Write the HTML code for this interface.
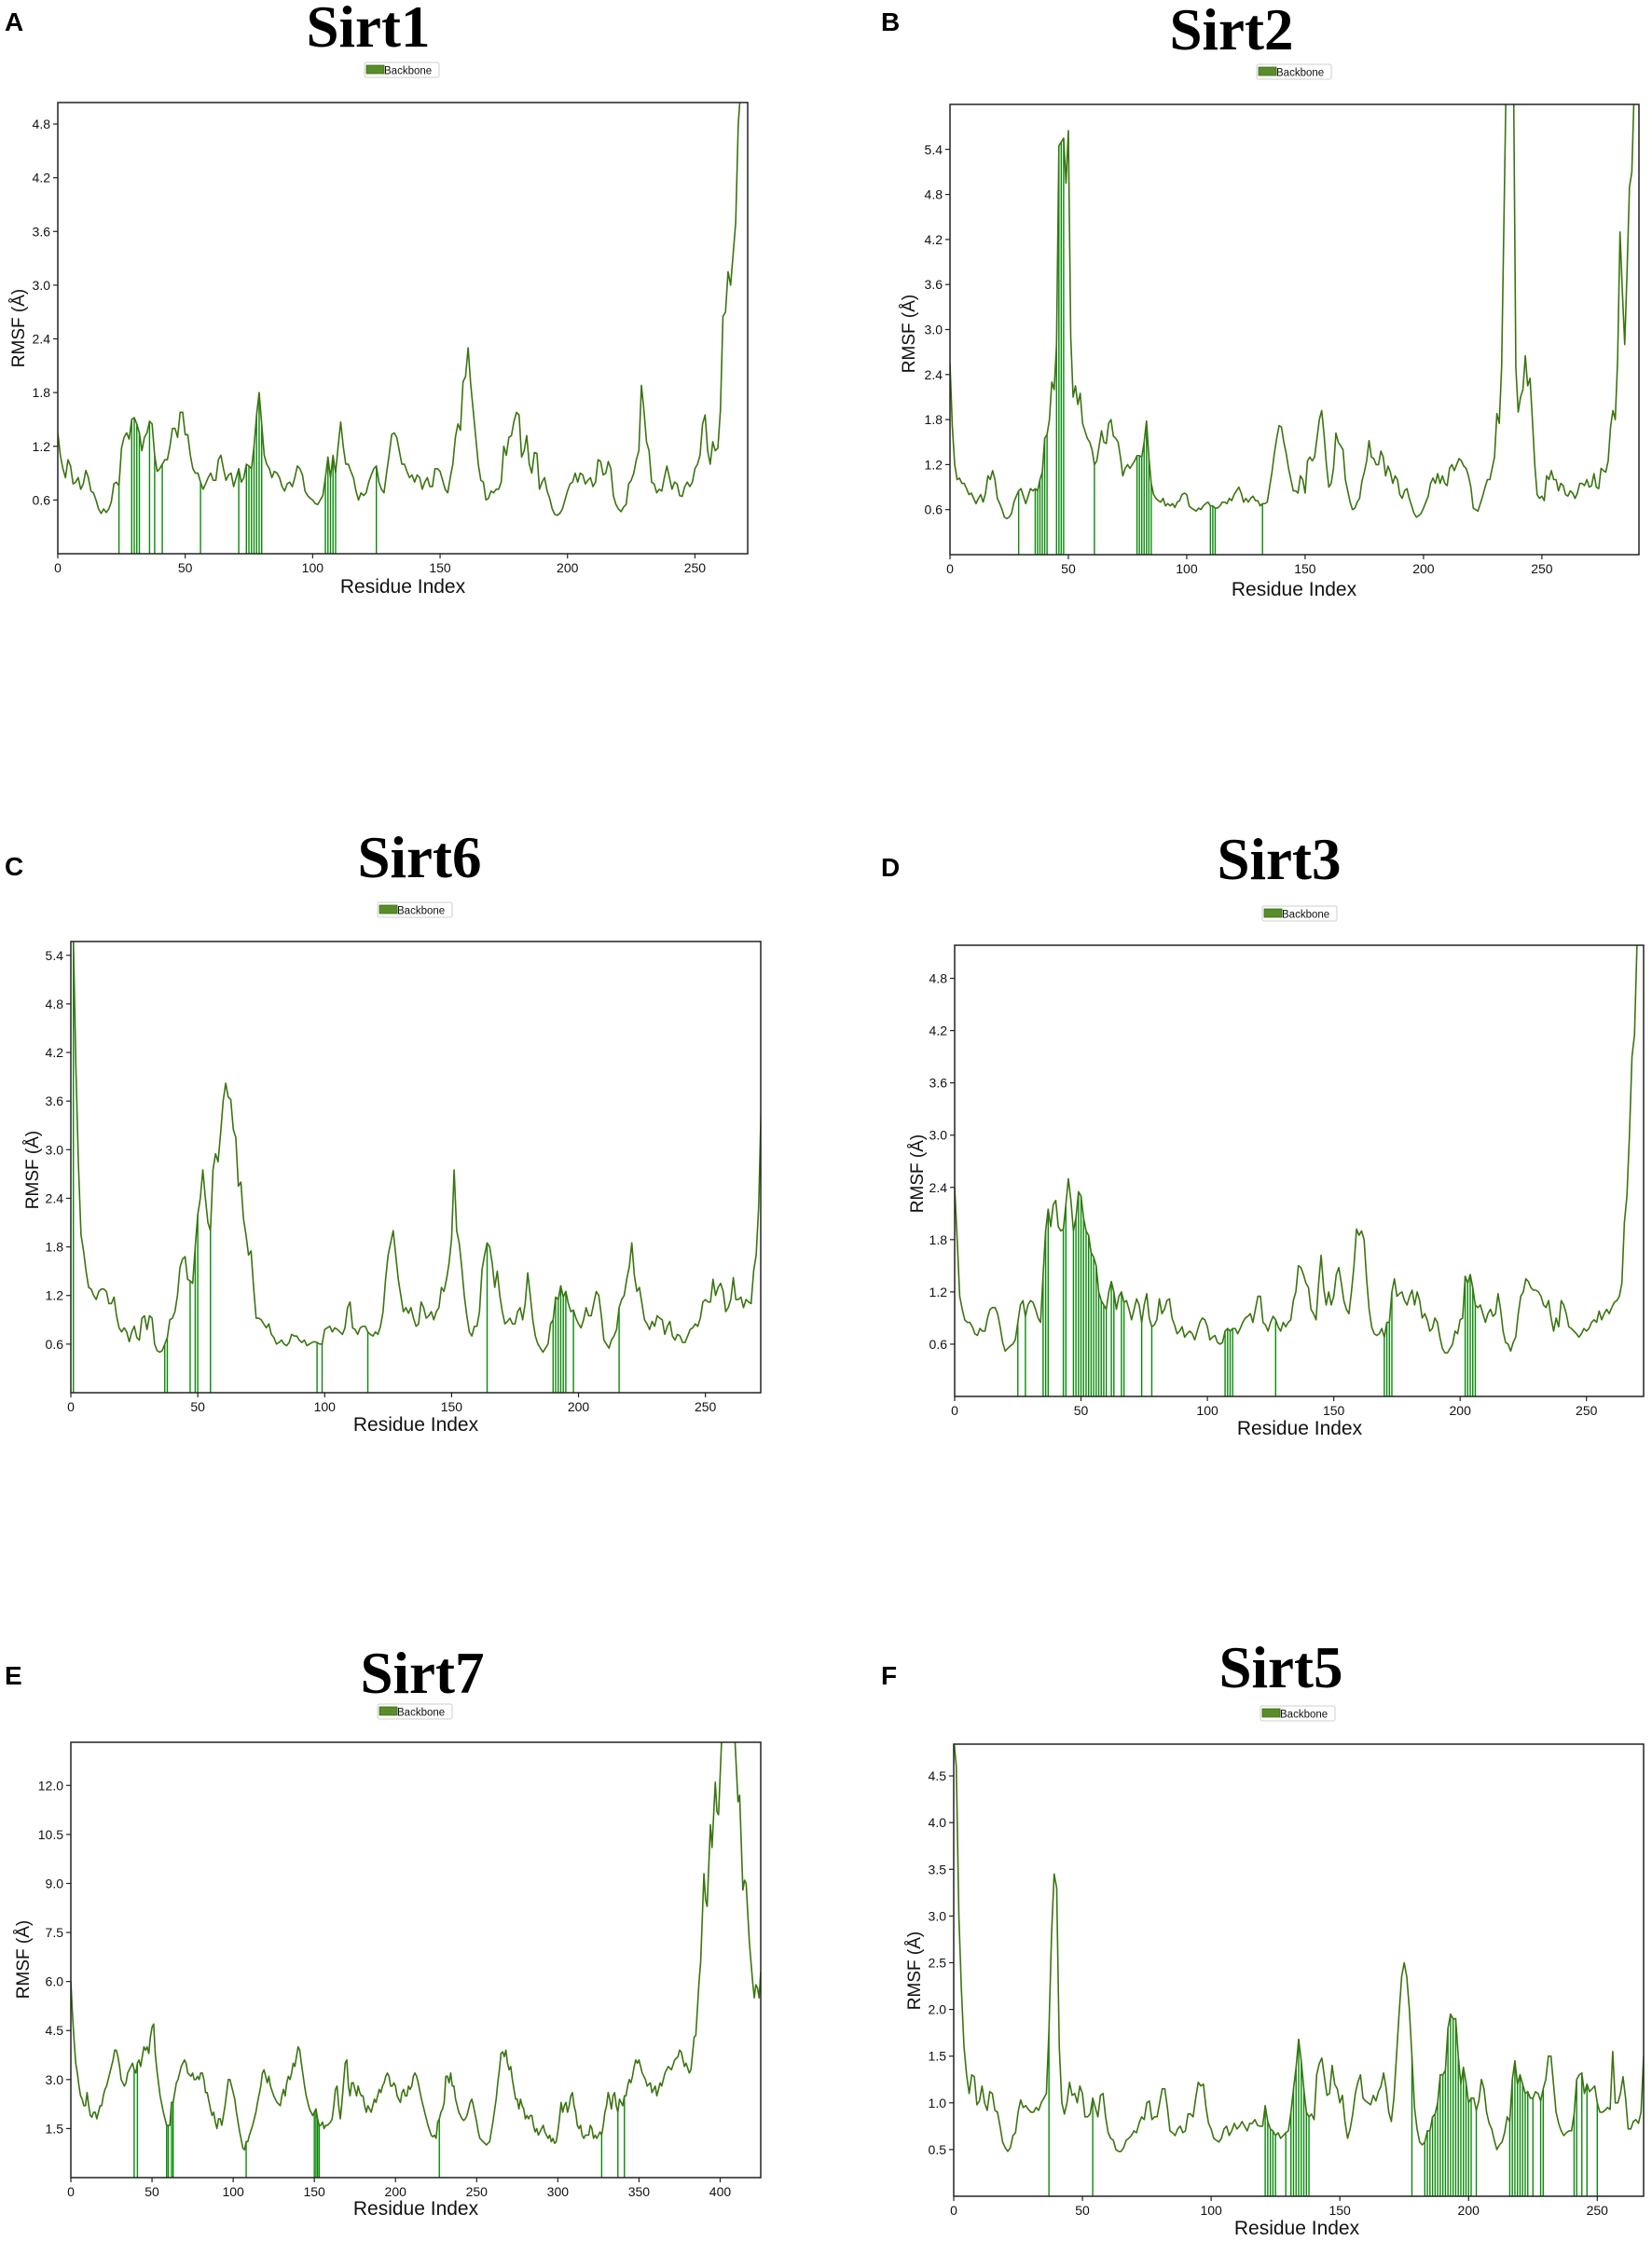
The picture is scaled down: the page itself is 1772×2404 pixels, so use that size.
<!DOCTYPE html>
<html><head><meta charset="utf-8"><style>
html,body{margin:0;padding:0;background:#fff;}
svg{display:block;}
text{font-family:"Liberation Sans",sans-serif;}
</style></head>
<body>
<svg id="fig" width="1772" height="2404" viewBox="0 0 1772 2404" xmlns="http://www.w3.org/2000/svg"></svg>
<script>
// ---------- Data ----------
const rmsfA = [1.35,1.1,0.95,0.85,1.05,0.98,0.78,0.8,0.85,0.72,0.78,0.93,0.85,0.7,0.68,0.6,0.5,0.45,0.5,0.46,0.5,0.58,0.78,0.8,0.76,1.18,1.3,1.35,1.28,1.5,1.52,1.45,1.35,1.15,1.3,1.35,1.48,1.45,1.1,0.92,0.95,1.0,1.05,1.05,1.2,1.4,1.4,1.3,1.58,1.58,1.33,1.33,1.1,0.95,0.9,0.9,0.8,0.72,0.78,0.85,0.9,0.82,0.82,1.05,1.1,0.95,0.82,0.88,0.9,0.75,0.85,0.95,0.8,0.85,1.0,0.98,0.95,1.2,1.55,1.8,1.45,1.1,1.0,0.95,0.85,0.92,0.9,0.85,0.75,0.7,0.78,0.8,0.75,0.85,0.98,0.95,0.88,0.7,0.65,0.62,0.6,0.56,0.55,0.6,0.65,0.85,1.08,0.85,1.1,0.9,1.2,1.47,1.2,1.0,1.0,0.92,0.85,0.7,0.6,0.68,0.65,0.68,0.8,0.88,0.95,0.98,0.8,0.72,0.68,0.9,1.1,1.33,1.35,1.3,1.15,1.0,1.0,0.92,0.85,0.88,0.8,0.88,0.85,0.72,0.8,0.85,0.75,0.75,0.95,0.95,0.92,0.82,0.72,0.68,0.85,1.0,1.3,1.45,1.38,1.92,1.98,2.3,1.9,1.6,1.3,1.0,0.82,0.8,0.6,0.62,0.7,0.68,0.72,0.72,0.8,1.2,1.1,1.3,1.32,1.48,1.58,1.55,1.08,1.15,1.32,1.0,0.9,1.13,1.12,0.72,0.8,0.85,0.7,0.62,0.5,0.44,0.43,0.45,0.5,0.6,0.7,0.78,0.8,0.9,0.8,0.9,0.88,0.78,0.82,0.85,0.75,0.8,1.05,1.03,0.88,0.9,1.03,0.95,0.65,0.55,0.5,0.47,0.52,0.55,0.78,0.82,0.9,1.05,1.15,1.88,1.6,1.25,1.15,0.8,0.78,0.68,0.72,0.7,0.85,0.98,0.85,0.72,0.8,0.78,0.65,0.64,0.75,0.8,0.75,0.8,0.95,1.0,1.1,1.45,1.55,1.15,1.0,1.25,1.15,1.18,1.6,2.65,2.7,3.15,3.0,3.35,3.7,4.8,5.2];
const contactsA = [24,29,30,31,32,36,38,41,56,71,74,75,76,77,78,79,80,105,106,107,108,109,125];

const rmsfB = [2.55,1.7,1.2,1.0,1.02,0.95,0.95,0.88,0.8,0.82,0.75,0.68,0.75,0.8,0.7,0.82,1.05,1.0,1.12,1.0,0.75,0.68,0.6,0.5,0.48,0.5,0.55,0.7,0.78,0.85,0.88,0.78,0.68,0.78,0.88,0.85,0.88,0.85,1.0,1.1,1.55,1.6,1.8,2.3,2.2,2.8,5.45,5.5,5.55,4.95,5.65,2.9,2.1,2.25,2.0,2.15,1.75,1.65,1.55,1.5,1.4,1.2,1.25,1.45,1.65,1.5,1.48,1.75,1.8,1.58,1.55,1.5,1.3,1.05,1.15,1.2,1.15,1.2,1.25,1.32,1.32,1.3,1.5,1.78,1.3,0.95,0.8,0.75,0.72,0.7,0.75,0.65,0.68,0.65,0.68,0.63,0.7,0.72,0.8,0.82,0.8,0.65,0.62,0.6,0.58,0.62,0.6,0.65,0.68,0.7,0.65,0.65,0.62,0.62,0.65,0.7,0.7,0.68,0.75,0.72,0.8,0.85,0.9,0.82,0.7,0.75,0.7,0.75,0.78,0.72,0.72,0.65,0.68,0.68,0.7,0.9,1.1,1.35,1.55,1.72,1.7,1.5,1.35,1.15,1.0,0.85,0.85,0.82,1.05,1.0,0.82,1.25,1.3,1.25,1.3,1.55,1.8,1.92,1.6,1.2,0.9,0.95,1.15,1.62,1.5,1.45,1.4,1.0,0.85,0.7,0.6,0.62,0.7,0.75,0.98,1.1,1.25,1.52,1.3,1.28,1.2,1.2,1.38,1.3,1.05,1.18,1.1,0.95,1.05,1.0,0.8,0.75,0.85,0.88,0.75,0.65,0.55,0.5,0.52,0.55,0.62,0.7,0.78,0.95,1.02,0.95,1.08,0.95,1.05,0.95,0.92,1.15,1.2,1.12,1.2,1.28,1.25,1.18,1.15,1.05,0.9,0.62,0.6,0.58,0.68,0.78,0.9,1.0,1.0,1.15,1.3,1.88,1.75,2.5,4.5,6.5,6.8,6.8,6.5,2.5,1.9,2.1,2.2,2.65,2.25,2.35,1.8,1.2,0.8,0.75,0.78,0.72,1.05,1.0,1.12,1.0,1.0,0.85,0.95,0.92,0.8,0.78,0.85,0.82,0.75,0.82,0.95,0.95,0.92,1.0,0.9,0.92,1.08,0.9,0.88,1.15,1.12,1.1,1.25,1.7,1.92,1.8,2.6,4.3,3.5,2.8,3.8,4.9,5.1,6.2];
const contactsB = [29,36,37,38,39,40,41,45,46,47,48,61,79,80,81,82,83,84,85,110,111,112,132];

const rmsfC = [5.6,5.6,4.0,2.8,1.95,1.75,1.5,1.3,1.28,1.2,1.15,1.25,1.28,1.28,1.25,1.1,1.1,1.18,0.95,0.8,0.75,0.8,0.75,0.63,0.75,0.82,0.68,0.65,0.92,0.95,0.78,0.95,0.92,0.6,0.52,0.5,0.52,0.6,0.68,0.9,0.92,1.0,1.2,1.55,1.65,1.68,1.4,1.38,1.35,1.8,2.2,2.4,2.75,2.4,2.1,2.0,2.75,2.95,2.85,3.2,3.6,3.82,3.65,3.62,3.25,3.15,2.55,2.6,2.15,1.95,1.7,1.75,1.3,0.92,0.92,0.9,0.85,0.8,0.85,0.72,0.68,0.6,0.62,0.65,0.6,0.58,0.62,0.72,0.7,0.7,0.65,0.62,0.65,0.58,0.6,0.62,0.63,0.62,0.6,0.6,0.78,0.8,0.82,0.75,0.8,0.78,0.75,0.72,0.8,1.05,1.12,0.8,0.78,0.72,0.8,0.82,0.82,0.75,0.72,0.7,0.75,0.72,0.82,1.0,1.4,1.7,1.85,2.0,1.7,1.4,1.2,1.0,1.05,0.98,1.05,0.92,0.82,0.85,1.12,1.05,0.92,0.95,1.0,0.9,1.0,1.05,1.3,1.25,1.4,1.6,1.9,2.75,2.0,1.85,1.55,1.2,0.95,0.75,0.7,0.82,0.82,1.0,1.52,1.7,1.85,1.8,1.6,1.3,1.5,1.2,1.0,0.85,0.88,0.92,0.85,0.85,1.0,1.05,0.9,1.1,1.48,1.2,0.9,0.7,0.6,0.55,0.5,0.55,0.6,0.85,0.9,1.18,1.15,1.32,1.18,1.25,1.1,1.0,1.02,0.92,0.85,0.8,0.9,1.05,0.95,0.95,1.1,1.25,1.2,0.95,0.65,0.6,0.55,0.65,0.7,0.78,1.05,1.15,1.2,1.4,1.55,1.85,1.45,1.25,1.3,1.1,0.9,0.85,0.78,0.88,0.82,0.95,0.92,0.9,0.72,0.82,0.88,0.7,0.65,0.72,0.7,0.62,0.62,0.7,0.78,0.8,0.85,0.82,0.92,1.12,1.15,1.12,1.12,1.4,1.2,1.3,1.35,1.25,1.0,1.05,1.15,1.42,1.15,1.15,1.18,1.05,1.15,1.12,1.1,1.5,1.7,2.3,3.6];
const contactsC = [1,37,38,47,49,50,55,97,99,117,164,190,191,192,193,194,195,198,216];

const rmsfD = [2.4,1.8,1.15,1.0,0.88,0.85,0.85,0.8,0.72,0.7,0.78,0.75,0.75,0.9,1.0,1.02,1.02,0.95,0.8,0.62,0.52,0.55,0.58,0.6,0.65,0.85,1.05,1.1,0.92,1.05,1.1,1.08,1.0,0.9,0.85,1.4,1.9,2.15,1.95,2.2,2.25,1.95,1.9,1.92,2.2,2.5,2.25,1.9,2.05,2.35,2.3,2.05,1.9,1.85,1.65,1.6,1.5,1.2,1.1,1.05,1.0,1.2,1.32,1.2,1.0,1.15,1.2,1.08,1.1,1.0,0.88,1.0,1.12,1.05,0.85,1.05,1.18,0.9,0.8,0.82,0.88,1.12,0.95,1.0,1.1,1.12,0.9,0.82,0.72,0.75,0.8,0.68,0.72,0.75,0.72,0.65,0.75,0.85,0.9,0.88,0.8,0.65,0.68,0.7,0.62,0.6,0.62,0.75,0.78,0.75,0.78,0.78,0.72,0.78,0.85,0.9,0.92,0.95,0.85,1.0,1.15,1.15,0.85,0.82,0.75,0.85,0.92,0.88,0.8,0.75,0.85,0.8,0.85,0.88,1.1,1.2,1.5,1.48,1.4,1.3,1.25,1.0,0.95,0.88,1.3,1.62,1.25,1.05,1.2,1.05,1.15,1.4,1.48,1.3,1.1,1.0,0.95,1.2,1.5,1.92,1.85,1.9,1.8,1.35,1.0,0.8,0.72,0.7,0.72,0.78,0.68,0.85,0.85,1.2,1.35,1.15,1.18,1.2,1.1,1.05,1.15,1.22,1.05,1.2,1.1,0.9,0.95,0.88,0.75,0.78,0.9,0.85,0.68,0.55,0.5,0.5,0.55,0.6,0.75,0.72,0.88,0.9,1.38,1.3,1.4,1.25,1.05,1.02,1.05,0.95,0.85,0.95,1.0,0.92,0.95,1.18,1.0,0.75,0.62,0.6,0.52,0.62,0.68,0.95,1.15,1.2,1.35,1.32,1.25,1.22,1.22,1.2,1.15,1.05,1.02,1.1,0.9,0.75,0.9,0.8,1.1,1.05,0.95,0.8,0.78,0.75,0.72,0.68,0.72,0.78,0.75,0.78,0.85,0.88,0.85,0.98,0.88,0.95,1.0,0.95,1.02,1.08,1.1,1.15,1.3,2.0,2.3,3.0,3.9,4.15,5.2,5.6];
const contactsD = [25,28,35,36,37,43,44,47,48,49,50,51,52,53,54,55,56,57,58,59,60,62,63,66,67,74,78,107,108,109,110,127,170,171,172,173,202,203,204,205,206];

const resE = [0,1,2,3,4,5,6,7,8,9,10,11,12,13,14,15,16,17,18,19,20,21,22,24,26,27,28,29,30,31,32,33,34,35,37,38,39,40,41,42,43,45,46,47,48,49,50,51,52,53,55,57,59,61,62,63,65,66,67,68,70,71,72,74,75,76,77,78,79,80,81,82,83,84,86,87,88,89,90,91,92,93,94,95,96,97,98,99,100,101,102,104,106,107,108,109,110,112,114,115,117,118,119,120,121,122,123,125,127,129,130,131,132,133,134,135,136,137,138,139,140,141,142,144,145,147,149,150,151,152,153,154,155,156,157,158,160,161,162,163,164,165,166,167,168,169,170,171,172,173,174,175,176,177,178,179,180,181,182,183,184,185,186,187,188,189,190,191,192,193,194,195,196,197,198,199,200,201,202,203,204,205,206,207,208,209,210,211,212,213,214,216,218,220,222,223,224,225,226,227,228,229,230,231,232,233,234,235,236,237,239,240,241,242,243,244,245,246,247,248,250,251,252,254,255,256,257,258,259,260,262,263,264,265,266,267,268,269,270,271,272,273,274,275,276,277,278,279,280,281,282,283,284,285,286,287,288,289,290,291,292,293,294,295,296,297,298,299,300,301,302,303,304,305,306,307,308,309,310,311,312,313,314,315,316,317,318,319,320,321,322,323,324,325,326,327,328,329,330,331,332,333,334,335,336,337,338,339,340,341,342,343,344,345,346,347,348,349,350,352,354,355,357,358,360,361,363,364,366,368,370,372,374,375,376,378,379,381,382,384,385,387,388,390,391,392,394,395,397,398,399,401,405,409,411,412,414,415,416,418,420,421,422,423,424,425];
const rmsfE = [6.0,5.0,4.2,3.5,3.2,2.8,2.5,2.4,2.2,2.2,2.6,2.2,1.9,1.85,2.0,2.0,1.8,2.0,2.2,2.2,2.5,2.7,2.8,3.2,3.6,3.9,3.9,3.7,3.4,3.0,2.9,2.8,2.9,3.2,3.4,3.5,3.3,3.2,3.5,3.6,3.4,4.0,3.9,4.0,3.8,4.3,4.6,4.7,3.8,3.3,2.5,2.0,1.6,1.6,2.3,2.3,2.9,3.0,3.2,3.4,3.6,3.5,3.2,3.1,3.2,3.0,3.0,3.1,3.0,3.2,3.2,3.0,2.6,2.6,2.1,1.9,2.0,1.7,1.5,1.8,1.8,1.6,1.9,2.2,2.6,3.0,3.0,2.8,2.6,2.4,2.0,1.4,0.9,0.85,1.1,1.1,1.3,1.6,2.0,2.3,2.8,3.2,3.3,3.1,2.9,3.1,2.8,2.5,2.3,2.2,2.5,2.7,2.5,2.9,3.1,3.0,3.2,3.5,3.4,3.7,4.0,3.9,3.5,2.8,2.5,2.1,1.9,2.0,2.1,1.8,1.6,1.6,1.7,1.5,1.6,1.6,1.7,1.8,2.2,2.7,2.8,2.2,1.8,2.3,2.9,3.5,3.6,2.8,2.5,2.9,2.9,2.7,2.5,2.8,2.6,2.5,2.5,2.2,2.0,2.2,2.1,2.0,2.2,2.4,2.3,2.5,2.7,2.6,2.8,2.9,3.1,3.2,3.1,2.8,2.8,2.9,2.8,2.5,2.4,2.3,2.6,2.7,2.5,2.5,2.8,2.7,2.8,3.1,3.2,3.1,2.9,2.4,2.0,1.6,1.3,1.25,1.3,1.2,1.7,1.8,2.0,2.1,2.3,3.1,3.1,2.9,3.2,2.8,2.8,2.4,2.0,1.9,1.8,1.75,1.8,1.9,2.1,2.3,2.4,2.2,1.7,1.4,1.2,1.1,1.05,1.0,1.05,1.1,1.4,1.7,2.4,2.9,3.3,3.8,3.85,3.7,3.9,3.5,3.3,3.4,3.0,2.7,2.4,2.4,2.1,2.4,2.2,2.1,1.8,1.9,1.8,1.9,1.9,1.6,1.4,1.5,1.3,1.4,1.5,1.6,1.4,1.3,1.2,1.3,1.1,1.2,1.05,1.1,1.4,1.8,2.3,2.0,2.2,2.3,2.0,2.2,2.5,2.6,2.2,2.0,1.6,1.5,1.6,1.3,1.2,1.3,1.3,1.3,1.6,1.5,1.2,1.3,1.2,1.3,1.4,1.3,1.6,2.0,2.2,2.6,2.4,2.1,2.5,2.6,2.2,2.0,2.4,2.3,2.2,2.5,2.5,2.8,3.0,2.9,3.1,3.4,3.6,3.5,3.6,3.2,3.0,2.8,2.9,2.6,2.8,2.5,2.9,2.8,3.2,3.4,3.3,3.6,3.7,3.9,3.85,3.4,3.5,3.2,3.3,4.3,4.35,6.0,6.6,9.3,8.5,8.3,10.8,10.1,12.1,11.2,11.1,13.5,14.0,13.5,11.5,11.7,8.8,9.1,9.0,7.2,6.0,5.5,5.9,5.8,5.5,6.3];
const contactsE = [39,41,59,60,62,63,108,150,151,152,153,227,327,337,341];

const rmsfF = [4.9,4.6,3.0,2.2,1.6,1.3,1.1,1.3,1.28,0.98,1.02,1.18,1.0,0.92,1.12,1.1,0.92,0.9,0.75,0.58,0.52,0.48,0.52,0.65,0.68,0.9,1.03,0.95,0.97,0.93,0.9,0.9,0.95,0.92,1.0,1.05,1.1,1.78,2.8,3.45,3.3,1.6,1.0,0.88,1.0,1.22,1.08,1.1,1.0,1.18,1.1,0.85,0.85,0.88,1.05,0.95,0.85,1.08,1.1,0.85,0.68,0.62,0.6,0.5,0.48,0.48,0.52,0.6,0.62,0.65,0.7,0.68,0.78,0.85,0.82,1.0,1.02,0.82,0.85,0.85,1.0,1.15,1.15,0.95,0.7,0.68,0.65,0.72,0.75,0.68,0.7,0.88,0.88,0.85,1.05,1.22,1.18,1.2,0.95,0.78,0.72,0.62,0.6,0.58,0.62,0.72,0.75,0.65,0.7,0.78,0.72,0.75,0.8,0.75,0.7,0.78,0.78,0.82,0.76,0.75,0.75,0.97,0.8,0.72,0.7,0.65,0.68,0.62,0.65,0.68,0.7,0.9,1.15,1.38,1.68,1.45,1.15,0.9,0.85,0.88,0.82,1.3,1.42,1.48,1.28,1.08,1.1,1.4,1.2,1.15,1.0,1.08,0.8,0.62,0.72,0.88,1.1,1.22,1.3,1.05,1.02,1.0,0.98,1.08,1.02,1.12,1.18,1.32,1.15,0.9,0.8,1.05,1.5,1.95,2.35,2.5,2.35,2.0,1.5,0.95,0.72,0.58,0.55,0.58,0.7,0.7,0.85,0.88,1.0,1.3,1.3,1.35,1.8,1.95,1.9,1.9,1.5,1.2,1.38,1.22,1.0,1.05,1.05,0.92,1.02,1.25,1.15,0.9,0.78,0.72,0.6,0.5,0.55,0.58,0.68,0.85,0.8,1.25,1.45,1.2,1.3,1.2,1.1,1.12,1.05,1.05,1.12,1.1,1.02,1.15,1.25,1.5,1.5,1.2,0.9,0.78,0.7,0.65,0.68,0.7,0.7,0.88,1.25,1.3,1.32,1.1,1.2,1.12,1.15,1.18,1.0,0.9,0.9,0.92,0.95,0.93,1.55,1.0,1.0,1.1,1.28,1.05,0.72,0.72,0.8,0.82,0.78,0.9,1.5];
const contactsF = [37,54,121,122,123,124,125,129,131,132,133,134,135,136,137,138,178,183,184,185,186,187,188,189,190,191,192,193,194,195,196,197,198,199,200,201,203,216,217,218,219,220,221,222,223,225,228,229,241,242,244,246,250];

const ticksA = [0.6,1.2,1.8,2.4,3.0,3.6,4.2,4.8];
const ticksB = [0.6,1.2,1.8,2.4,3.0,3.6,4.2,4.8,5.4];
const ticksF = [0.5,1.0,1.5,2.0,2.5,3.0,3.5,4.0,4.5];
const ticksE = [1.5,3.0,4.5,6.0,7.5,9.0,10.5,12.0];
const xTicks250 = [0,50,100,150,200,250];
const xTicks400 = [0,50,100,150,200,250,300,350,400];

const panels = [
 {id:'a',letter:'A',title:'Sirt1',val:rmsfA,res:null,con:contactsA,yt:ticksA,dec:1,xt:xTicks250,L:62,R:802,T:110,B:594,xmax:270.7,ymax:5.04,tx:395,ty:50,lx:5,ly:33,gx:391,gy:67,xlx:432,xly:636,ylx:26,yly:352},
 {id:'b',letter:'B',title:'Sirt2',val:rmsfB,res:null,con:contactsB,yt:ticksB,dec:1,xt:xTicks250,L:1019,R:1758,T:112,B:595,xmax:291,ymax:6.0,tx:1321,ty:53,lx:945,ly:33,gx:1348,gy:69,xlx:1388,xly:639,ylx:981,yly:358},
 {id:'c',letter:'C',title:'Sirt6',val:rmsfC,res:null,con:contactsC,yt:ticksB,dec:1,xt:xTicks250,L:76,R:816,T:1010,B:1494,xmax:271.8,ymax:5.57,tx:450,ty:941,lx:5,ly:939,gx:405,gy:968,xlx:446,xly:1535,ylx:41,yly:1255},
 {id:'d',letter:'D',title:'Sirt3',val:rmsfD,res:null,con:contactsD,yt:ticksA,dec:1,xt:xTicks250,L:1024,R:1763,T:1014,B:1498,xmax:272.6,ymax:5.18,tx:1372,ty:943,lx:945,ly:940,gx:1354,gy:972,xlx:1394,xly:1539,ylx:990,yly:1259},
 {id:'e',letter:'E',title:'Sirt7',val:rmsfE,res:resE,con:contactsE,yt:ticksE,dec:1,xt:xTicks400,L:76,R:816,T:1869,B:2336,xmax:425,ymax:13.32,tx:453,ty:1816,lx:5,ly:1807,gx:405,gy:1828,xlx:446,xly:2376,ylx:31,yly:2102},
 {id:'f',letter:'F',title:'Sirt5',val:rmsfF,res:null,con:contactsF,yt:ticksF,dec:1,xt:xTicks250,L:1023,R:1763,T:1871,B:2356,xmax:268,ymax:4.84,tx:1374,ty:1810,lx:945,ly:1807,gx:1352,gy:1830,xlx:1391,xly:2397,ylx:987,yly:2114}
];

// ---------- Drawing ----------
const NS='http://www.w3.org/2000/svg';
const svg=document.getElementById('fig');
function mk(tag,attrs,parent){const e=document.createElementNS(NS,tag);for(const k in attrs)e.setAttribute(k,attrs[k]);(parent||svg).appendChild(e);return e;}

panels.forEach(p=>{
  const g=mk('g',{});
  
  
  const xs=v=>p.L+(v/p.xmax)*(p.R-p.L);
  const ys=v=>p.B-(v/p.ymax)*(p.B-p.T);
  const resOf=i=>p.res?p.res[i]:i;
  const interp=r=>{for(let i=0;i<p.val.length-1;i++){const a=resOf(i),b=resOf(i+1);if(r>=a&&r<=b){return p.val[i]+(p.val[i+1]-p.val[i])*(r-a)/(b-a||1);}}return p.val[p.val.length-1];};

  const letter=mk('text',{x:p.lx,y:p.ly,'font-size':28,'font-weight':'bold',fill:'#000'},g);
  letter.textContent=p.letter;
  
  
  const title=mk('text',{x:p.tx,y:p.ty,'font-size':63,'font-weight':'bold','text-anchor':'middle',fill:'#000',style:'font-family:"Liberation Serif",serif'},g);
  title.textContent=p.title;
  
  

  const leg=mk('g',{},g);
  
  
  mk('rect',{x:p.gx,y:p.gy,width:80,height:16,rx:2,fill:'#fff',stroke:'#cfcfcf','stroke-width':1},leg);
  mk('rect',{x:p.gx+2,y:p.gy+3,width:19,height:9,fill:'#5a8c2b',stroke:'#3c6e12','stroke-width':0.8},leg);
  const lt=mk('text',{x:p.gx+21,y:p.gy+12.5,'font-size':11.5,fill:'#111'},leg);
  lt.textContent='Backbone';

  const cid='clip-'+p.id;
  const cp=mk('clipPath',{id:cid},g);
  mk('rect',{x:p.L,y:p.T,width:p.R-p.L,height:p.B-p.T},cp);

  const bars=mk('g',{'clip-path':'url(#'+cid+')'},g);
  
  
  p.con.forEach(r=>{
    const b=mk('line',{x1:xs(r),x2:xs(r),y1:p.B,y2:ys(interp(r)),stroke:'#0a8a0a','stroke-width':1.4},bars);
    
    
  });

  let d='';
  p.val.forEach((v,i)=>{d+=(i?'L':'M')+xs(resOf(i)).toFixed(2)+','+ys(v).toFixed(2);});
  const line=mk('path',{d:d,fill:'none',stroke:'#3b7410','stroke-width':1.6,'stroke-linejoin':'round','clip-path':'url(#'+cid+')'},g);
  
  

  const frame=mk('rect',{x:p.L,y:p.T,width:p.R-p.L,height:p.B-p.T,fill:'none',stroke:'#222','stroke-width':1.5},g);
  
  

  const ya=mk('g',{},g);
  
  
  p.yt.forEach(t=>{
    const y=ys(t);
    mk('line',{x1:p.L-5,x2:p.L,y1:y,y2:y,stroke:'#222','stroke-width':1.2},ya);
    const tl=mk('text',{x:p.L-8,y:y+5,'font-size':14,'text-anchor':'end',fill:'#111'},ya);
    tl.textContent=t.toFixed(p.dec);
  });
  const xa=mk('g',{},g);
  
  
  p.xt.forEach(t=>{
    const x=xs(t);
    mk('line',{x1:x,x2:x,y1:p.B,y2:p.B+5,stroke:'#222','stroke-width':1.2},xa);
    const tl=mk('text',{x:x,y:p.B+20,'font-size':14,'text-anchor':'middle',fill:'#111'},xa);
    tl.textContent=t;
  });
  const xl=mk('text',{x:p.xlx,y:p.xly,'font-size':21,'text-anchor':'middle',fill:'#111'},g);
  xl.textContent='Residue Index';
  
  
  const yl=mk('text',{x:p.ylx,y:p.yly,'font-size':19,'text-anchor':'middle',fill:'#111',transform:'rotate(-90 '+p.ylx+' '+p.yly+')'},g);
  yl.textContent='RMSF (Å)';
  
  
});
</script>
</body></html>
